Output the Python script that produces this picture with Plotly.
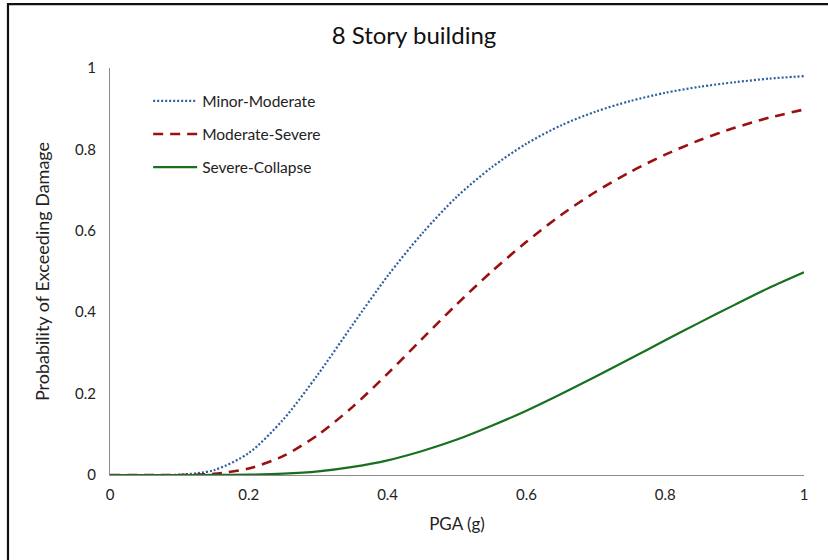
import plotly.graph_objects as go

# PGA values (g) at which each fragility curve is tabulated
pga = [0.0, 0.05, 0.10, 0.15, 0.20, 0.25, 0.30, 0.35, 0.40, 0.45, 0.50,
       0.55, 0.60, 0.65, 0.70, 0.75, 0.80, 0.85, 0.90, 0.95, 1.00]

# Probability of exceeding each damage state
minor_moderate = [0.0, 0.0, 0.0007, 0.012, 0.054, 0.137, 0.248, 0.370, 0.489, 0.594, 0.684,
                  0.756, 0.814, 0.859, 0.893, 0.919, 0.939, 0.954, 0.965, 0.974, 0.980]
moderate_severe = [0.0, 0.0, 0.0001, 0.003, 0.016, 0.047, 0.099, 0.168, 0.249, 0.335, 0.420,
                   0.500, 0.573, 0.639, 0.696, 0.745, 0.787, 0.823, 0.853, 0.878, 0.898]
severe_collapse = [0.0, 0.0, 0.0, 0.0001, 0.0008, 0.0033, 0.009, 0.020, 0.036, 0.059, 0.087,
                   0.121, 0.158, 0.199, 0.242, 0.286, 0.331, 0.375, 0.418, 0.460, 0.498]

series_names = ["Minor-Moderate", "Moderate-Severe", "Severe-Collapse"]
y_ticks = [0, 0.2, 0.4, 0.6, 0.8, 1]
y_tick_text = ["0", "0.2", "0.4", "0.6", "0.8", "1"]
x_ticks = [0, 0.2, 0.4, 0.6, 0.8, 1]
x_tick_text = ["0", "0.2", "0.4", "0.6", "0.8", "1"]

FONT = "Lato, 'Open Sans', sans-serif"

styles = [
    dict(color="#2F5F9E", width=2.2, dash="2px,2px"),
    dict(color="#9A1010", width=2.6, dash="10px,7px"),
    dict(color="#17701F", width=2.2, dash="solid"),
]

fig = go.Figure()
for name, vals, st, grp in zip(series_names,
                               [minor_moderate, moderate_severe, severe_collapse],
                               styles, ["a", "b", "c"]):
    fig.add_trace(go.Scatter(
        x=pga, y=vals, mode="lines", name=name, legendgroup=grp,
        line=dict(color=st["color"], width=st["width"], dash=st["dash"], shape="spline", smoothing=0.8),
    ))

fig.update_layout(
    width=828, height=560,
    margin=dict(l=110, r=24, t=68, b=85),
    paper_bgcolor="white", plot_bgcolor="white",
    font=dict(family=FONT, size=15, color="#222222"),
    title=dict(text="8 Story building", x=0.5, xanchor="center", y=0.937, yanchor="middle",
               font=dict(family=FONT, size=24, color="#111111")),
    showlegend=True,
    legend=dict(x=0.055, y=0.96, xanchor="left", yanchor="top",
                bgcolor="rgba(0,0,0,0)", font=dict(family=FONT, size=15.5, color="#222222"),
                tracegroupgap=10, itemwidth=44),
    xaxis=dict(range=[0, 1], tickvals=x_ticks, ticktext=x_tick_text, showgrid=False, zeroline=False,
               showline=True, linecolor="#8c8c8c", linewidth=1.2, ticks="", ticklen=0,
               ticklabelstandoff=6,
               title=dict(text="PGA (g)", font=dict(family=FONT, size=17), standoff=16),
               tickfont=dict(family=FONT, size=15)),
    yaxis=dict(range=[0, 1], tickvals=y_ticks, ticktext=y_tick_text, showgrid=False, zeroline=False,
               showline=True, linecolor="#8c8c8c", linewidth=1.2, ticks="", ticklen=0,
               ticklabelstandoff=10,
               title=dict(text="Probability of Exceeding Damage", font=dict(family=FONT, size=18), standoff=20),
               tickfont=dict(family=FONT, size=15)),
)

# outer chart frame (left and top edges visible)
fig.add_shape(type="rect", xref="paper", yref="paper",
              x0=-0.147, x1=1.2, y0=-0.4, y1=1.157,
              line=dict(color="#111111", width=2.2), fillcolor="rgba(0,0,0,0)", layer="below")

fig.write_html("out.html")
